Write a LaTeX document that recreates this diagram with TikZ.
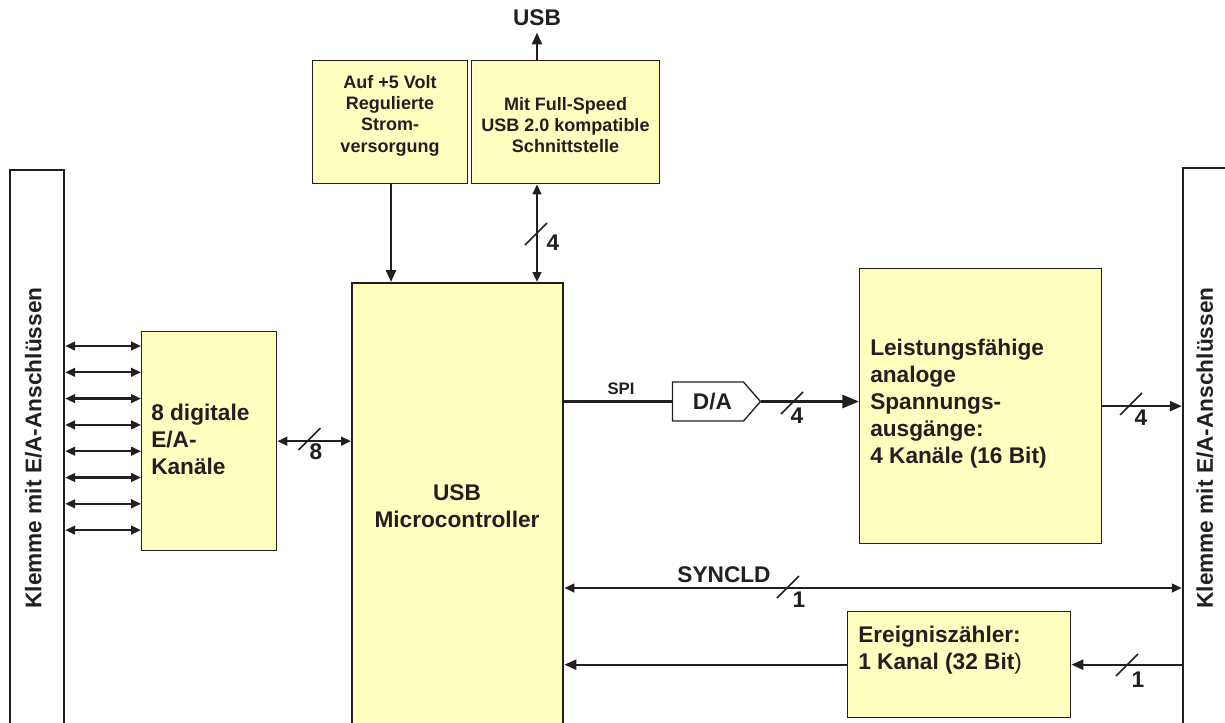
\documentclass[tikz,border=0pt]{standalone}
\usepackage{fontspec}
\setmainfont{Liberation Sans}
\usetikzlibrary{arrows.meta,shapes.symbols}

\newcommand{\pxu}{0.75pt}
\definecolor{boxyellow}{RGB}{255,255,192}
\definecolor{ink}{RGB}{35,31,32}

\tikzset{
  box/.style={draw=ink, fill=boxyellow, line width=1pt, inner sep=0pt, anchor=north west},
  term/.style={draw=ink, fill=white, line width=1.8pt, inner sep=0pt},
  txt/.style={text=ink, inner sep=0pt, font=\bfseries\fontsize{17}{20.25}\selectfont},
  small/.style={text=ink, inner sep=0pt, font=\bfseries\fontsize{13.5}{16}\selectfont},
  tiny/.style={text=ink, inner sep=0pt, font=\bfseries\fontsize{12.5}{15}\selectfont},
  wire/.style={draw=ink, line width=1.7pt},
  sig/.style={wire, -{Triangle[length=9pt,width=7.5pt]}},
  bidir/.style={wire, {Triangle[length=7.5pt,width=6.5pt]}-{Triangle[length=7.5pt,width=6.5pt]}},
  fat/.style={draw=ink, line width=2.2pt, -{Triangle[length=12.5pt,width=9.75pt]}},
  bus/.pic={\draw[ink, line width=1.2pt] (-11,11) -- (11,-11);},
}

\begin{document}
\begin{tikzpicture}[x=\pxu, y=-\pxu]
\useasboundingbox (0,0) rectangle (1225,722);

% Klemmen links und rechts
\node[term, minimum width=54*\pxu, minimum height=556*\pxu] (klL) at (37,448) {};
\node[txt, rotate=90] (klLt) at (33.5,448) {Klemme mit E/A-Anschlüssen};
\node[term, minimum width=52*\pxu, minimum height=560*\pxu] (klR) at (1209,448) {};
\node[txt, rotate=90] (klRt) at (1205,448) {Klemme mit E/A-Anschlüssen};

% Bloecke
\node[box, minimum width=155*\pxu, minimum height=123*\pxu] (pwr) at (312,60) {};
\node[box, minimum width=188*\pxu, minimum height=123*\pxu] (usbif) at (471,60) {};
\node[box, minimum width=135*\pxu, minimum height=219*\pxu] (dig) at (141,331) {};
\node[box, line width=1.8pt, minimum width=211*\pxu, minimum height=460*\pxu] (mc) at (351,282) {};
\node[box, minimum width=242*\pxu, minimum height=275*\pxu] (ana) at (859,268) {};
\node[box, minimum width=223*\pxu, minimum height=106*\pxu] (ev) at (847,611) {};
\node[txt, draw=ink, line width=1pt, signal, signal to=east, signal pointer angle=98,
      minimum width=88*\pxu, minimum height=39*\pxu] (da) at (708,401.5) {\hspace{6.75pt}D/A};

% Texte
\node[small, align=center, anchor=north] (pwrT) at (390,75) {Auf +5 Volt\\Regulierte\\Strom-\\versorgung};
\node[small, align=center, anchor=north] (usbifT) at (565.5,97) {Mit Full-Speed\\USB 2.0 kompatible\\Schnittstelle};
\node[txt, align=left, anchor=north west] (digT) at (151,403.5) {8 digitale\\E/A-\\Kanäle};
\node[txt, align=center, anchor=north] (mcT) at (457,484) {USB\\Microcontroller};
\node[txt, align=left, anchor=north west] (anaT) at (870,338.5) {Leistungsfähige\\analoge\\Spannungs-\\ausgänge:\\4 Kanäle (16 Bit)};
\node[txt, align=left, anchor=north west] (evT) at (858,625.5) {Ereigniszähler:\\1 Kanal (32 Bit{\mdseries)}};
\node[txt, inner ysep=5.25pt, anchor=base] (usbL) at (537,25) {USB};
\node[tiny, anchor=base] (spiT) at (621,394) {SPI};
\node[txt] (syncT) at (724,575) {SYNCLD};

% Verbindungen
\coordinate (usbx) at (537,0);
\draw[sig] (usbif.north -| usbx) -- (usbL.south);
\draw[sig] (pwr.south -| 391,0) -- (mc.north -| 391,0);
\draw[bidir] (usbif.south -| usbx) -- (mc.north -| usbx);
\pic at (536,234) {bus};
\node[txt] (n4a) at (553,243) {4};

\foreach \i in {0,...,7}
  \draw[bidir] (klL.east |- 0,{346+26.3*\i}) -- (dig.west |- 0,{346+26.3*\i});

\draw[bidir] (dig.east) -- (dig.east -| mc.west);
\pic at (309.5,439) {bus};
\node[txt] (n8) at (316,452) {8};

\draw[wire] (mc.east |- da.west) -- (da.west);
\draw[fat] (da.east) -- (da.east -| ana.west);
\pic at (792,403) {bus};
\node[txt] (n4b) at (797,415.5) {4};

\draw[sig] (ana.east) -- (ana.east -| klR.west);
\pic at (1131,404) {bus};
\node[txt] (n4c) at (1141,418) {4};

\draw[bidir] (mc.east |- 0,588) -- (klR.west |- 0,588);
\pic at (788,587) {bus};
\node[txt] (n1a) at (799,600) {1};

\draw[sig] (ev.west) -- (ev.west -| mc.east);
\draw[sig] (klR.west |- ev.east) -- (ev.east);
\pic at (1127,665) {bus};
\node[txt] (n1b) at (1138,680) {1};
\end{tikzpicture}
\end{document}
